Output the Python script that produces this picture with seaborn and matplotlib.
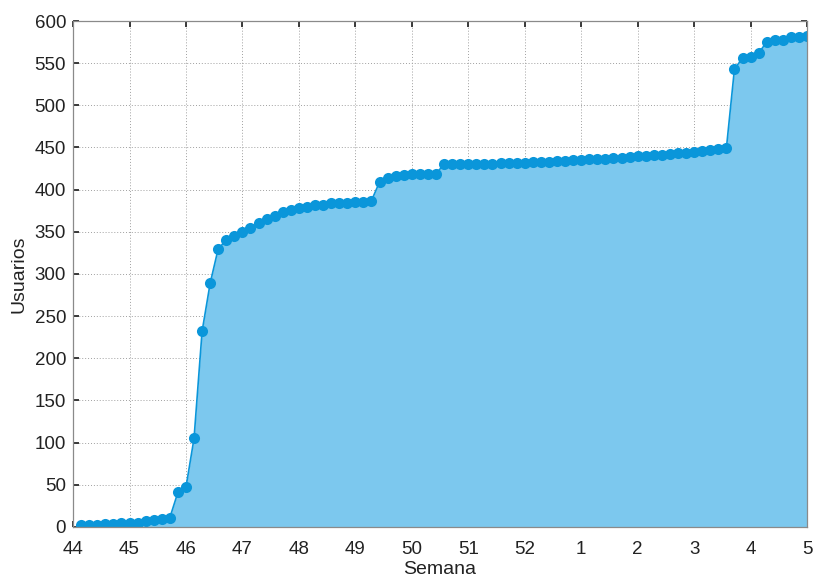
import matplotlib
matplotlib.use("Agg")
import matplotlib.pyplot as plt
import seaborn as sns
import pandas as pd
import numpy as np

# day index since start of week 44 (7 points per week)
day = list(range(1, 92))

usuarios = [
    2, 2, 2, 3, 3, 5, 5, 5, 7, 8, 10, 11,
    41, 47, 105, 232, 289, 330, 340, 345, 350, 355, 360, 365, 369, 373,
    376, 378, 380, 382, 382, 384, 384, 384, 385, 385, 387,
    409, 414, 416, 417, 418, 419, 419, 419,
    430, 430, 430, 430, 431, 431, 431,
    432, 432, 432, 432, 433, 433, 433,
    434, 434, 435, 435, 436, 436, 436,
    437, 438, 439, 440, 440, 441, 441,
    442, 443, 444, 445, 446, 447, 448,
    449,
    543, 556, 557, 562, 575, 577, 577, 581, 581, 582,
]

tick_pos = list(range(44, 58))
tick_labels = ["44", "45", "46", "47", "48", "49", "50", "51", "52",
               "1", "2", "3", "4", "5"]

line_color = "#0A96DA"
fill_color = "#7CC8EE"


def main():
    df = pd.DataFrame({"semana": [44 + d / 7 for d in day], "usuarios": usuarios})

    sns.set_theme(style="ticks")
    plt.rcParams["font.family"] = ["Liberation Sans", "DejaVu Sans"]

    fig = plt.figure(figsize=(8.17, 5.77), dpi=100)
    ax = fig.add_axes([0.0894, 0.0867, 0.8984, 0.8769])

    ax.fill_between(df.semana, df.usuarios, color=fill_color, lw=0, zorder=2)
    sns.lineplot(data=df, x="semana", y="usuarios", ax=ax, color=line_color,
                 lw=1.2, marker="o", markersize=8, markeredgewidth=0,
                 zorder=3)

    ax.set_xlim(44, 57)
    ax.set_ylim(0, 600)
    ax.set_xticks(tick_pos)
    ax.set_xticklabels(tick_labels)
    ax.set_yticks(range(0, 601, 50))
    ax.grid(True, linestyle=(0, (1, 2)), color="#a0a0a0", lw=0.7, zorder=0)
    ax.set_axisbelow(True)
    ax.tick_params(direction="in", length=4, labelsize=13.5, colors="#222222",
                   top=True, right=True)
    ax.tick_params(axis="x", pad=10)
    ax.tick_params(axis="y", pad=5)
    for s in ax.spines.values():
        s.set_color("#8a8a8a")
        s.set_linewidth(0.9)
        s.set_zorder(4)

    ax.set_xlabel("Semana", fontsize=14, labelpad=2, color="#222222")
    ax.set_ylabel("Usuarios", fontsize=14, labelpad=5, color="#222222")

    fig.savefig("out.png", dpi=100)


if __name__ == "__main__":
    main()
